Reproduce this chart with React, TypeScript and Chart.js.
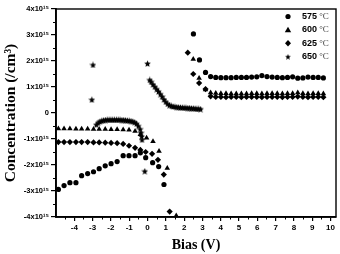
import React, { useEffect, useRef } from "react";
import { Chart, registerables } from "chart.js";
Chart.register(...registerables);

// ---- data (concentration in units of 1e15 /cm^3, bias in V) ----
const seriesLabels = ["575", "600", "625", "650"];
const labelUnit = " °C";

const bias575 = [-4.87, -4.56, -4.24, -3.91, -3.6, -3.27, -2.95, -2.64, -2.31, -1.99, -1.66, -1.33, -1.01, -0.68, -0.39, -0.1, 0.28, 0.61, 0.9,
  2.51, 2.84, 3.17,
  3.45, 3.73, 4.01, 4.29, 4.57, 4.85, 5.13, 5.41, 5.69, 5.97, 6.25, 6.53, 6.81, 7.09, 7.37, 7.65, 7.93, 8.21, 8.49, 8.77, 9.05, 9.33, 9.61];
const conc575 = [-2.94, -2.79, -2.68, -2.68, -2.41, -2.33, -2.26, -2.14, -2.03, -1.95, -1.87, -1.64, -1.64, -1.64, -1.53, -1.72, -1.91, -2.06, -2.75,
  3.04, 2.04, 1.56,
  1.4, 1.37, 1.36, 1.36, 1.36, 1.37, 1.37, 1.37, 1.38, 1.39, 1.44, 1.4, 1.38, 1.37, 1.36, 1.37, 1.39, 1.34, 1.35, 1.38, 1.37, 1.37, 1.35];

const bias600 = [-4.87, -4.56, -4.24, -3.91, -3.6, -3.27, -2.95, -2.64, -2.31, -1.99, -1.66, -1.33, -1.01, -0.68, -0.39, -0.05, 0.3, 0.63, 1.08, 1.57,
  2.5, 2.82, 3.17,
  3.45, 3.73, 4.01, 4.29, 4.57, 4.85, 5.13, 5.41, 5.69, 5.97, 6.25, 6.53, 6.81, 7.09, 7.37, 7.65, 7.93, 8.21, 8.49, 8.77, 9.05, 9.33, 9.61];
const conc600 = [-0.6, -0.6, -0.6, -0.61, -0.61, -0.61, -0.62, -0.62, -0.62, -0.63, -0.63, -0.64, -0.65, -0.7, -0.82, -0.96, -1.09, -1.47, -2.12, -3.95,
  2.07, 1.34, 0.9,
  0.78, 0.76, 0.75, 0.75, 0.74, 0.74, 0.74, 0.74, 0.75, 0.75, 0.74, 0.75, 0.75, 0.75, 0.74, 0.75, 0.75, 0.78, 0.75, 0.74, 0.75, 0.75, 0.74];

const bias625 = [-4.87, -4.56, -4.24, -3.91, -3.6, -3.27, -2.95, -2.64, -2.31, -1.99, -1.66, -1.33, -1.01, -0.68, -0.39, -0.1, 0.25, 0.57, 0.89, 1.21,
  2.2, 2.5, 2.82, 3.17,
  3.45, 3.73, 4.01, 4.29, 4.57, 4.85, 5.13, 5.41, 5.69, 5.97, 6.25, 6.53, 6.81, 7.09, 7.37, 7.65, 7.93, 8.21, 8.49, 8.77, 9.05, 9.33, 9.61];
const conc625 = [-1.12, -1.12, -1.12, -1.12, -1.12, -1.12, -1.13, -1.13, -1.14, -1.15, -1.16, -1.19, -1.26, -1.34, -1.42, -1.5, -1.57, -1.8, -2.37, -3.79,
  2.32, 1.5, 1.15, 0.92,
  0.64, 0.62, 0.62, 0.61, 0.62, 0.62, 0.61, 0.62, 0.62, 0.62, 0.61, 0.62, 0.62, 0.62, 0.61, 0.62, 0.62, 0.63, 0.62, 0.61, 0.62, 0.62, 0.61];

const bias650 = [-3.04, -2.98,
  -2.8, -2.7, -2.6, -2.5, -2.4, -2.3, -2.2, -2.1, -2.0, -1.9, -1.8, -1.7, -1.6, -1.5, -1.4, -1.3, -1.2, -1.1, -1.0, -0.9, -0.8, -0.7, -0.6, -0.5, -0.4, -0.35, -0.32, -0.3,
  -0.15, 0.0,
  0.12, 0.2, 0.3, 0.4, 0.5, 0.6, 0.7, 0.8, 0.9, 1.0, 1.1, 1.2, 1.3, 1.4, 1.5, 1.6, 1.7, 1.8, 1.9, 2.0, 2.1, 2.2, 2.3, 2.4, 2.5, 2.6, 2.7, 2.8, 2.9];
const conc650 = [0.51, 1.85,
  -0.45, -0.38, -0.33, -0.3, -0.28, -0.27, -0.26, -0.26, -0.26, -0.26, -0.26, -0.26, -0.26, -0.26, -0.27, -0.27, -0.28, -0.29, -0.3, -0.31, -0.33, -0.36, -0.41, -0.5, -0.62, -0.76, -0.9, -1.03,
  -2.24, 1.9,
  1.27, 1.2, 1.1, 1.01, 0.92, 0.83, 0.73, 0.63, 0.52, 0.43, 0.35, 0.3, 0.27, 0.25, 0.24, 0.23, 0.22, 0.21, 0.21, 0.2, 0.2, 0.19, 0.19, 0.18, 0.18, 0.17, 0.16, 0.16, 0.15];

const xTickValues = [-4, -3, -2, -1, 0, 1, 2, 3, 4, 5, 6, 7, 8, 9, 10];
const yTickValues = [-4, -3, -2, -1, 0, 1, 2, 3, 4];
const yTickLabels = ["-4x10¹⁵", "-3x10¹⁵", "-2x10¹⁵", "-1x10¹⁵", "0", "1x10¹⁵", "2x10¹⁵", "3x10¹⁵", "4x10¹⁵"];
const xMinorTicks = [-4.5, -3.5, -2.5, -1.5, -0.5, 0.5, 1.5, 2.5, 3.5, 4.5, 5.5, 6.5, 7.5, 8.5, 9.5];
const yMinorTicks = [-3.5, -2.5, -1.5, -0.5, 0.5, 1.5, 2.5, 3.5];

const xTitle = "Bias (V)";
const yTitle = "Concentration (/cm³)";

function makeStar(size: number) {
  const c = document.createElement("canvas");
  c.width = size;
  c.height = size;
  const g = c.getContext("2d")!;
  const cx = size / 2, cy = size / 2 + 0.3, R = size / 2, r = R * 0.45;
  g.beginPath();
  for (let k = 0; k < 10; k++) {
    const rad = k % 2 === 0 ? R : r;
    const a = -Math.PI / 2 + (k * Math.PI) / 5;
    g.lineTo(cx + rad * Math.cos(a), cy + rad * Math.sin(a));
  }
  g.closePath();
  g.fillStyle = "#000";
  g.fill();
  return c;
}

const pts = (xs: number[], ys: number[]) => xs.map((x, i) => ({ x, y: ys[i] }));

export default function App() {
  const ref = useRef<HTMLCanvasElement>(null);
  useEffect(() => {
    document.body.style.margin = "0";
    const star = makeStar(7);
    const legendStar = makeStar(6);
    const styles: any[] = ["circle", "triangle", "rectRot", star];

    const framePlugin = {
      id: "frame",
      afterDraw(chart: any) {
        const { ctx, chartArea: a, scales } = chart;
        ctx.save();
        ctx.strokeStyle = "#000";
        ctx.lineWidth = 1.4;
        ctx.strokeRect(a.left, a.top, a.right - a.left, a.bottom - a.top);
        ctx.lineWidth = 1;
        ctx.beginPath();
        xMinorTicks.forEach((v) => {
          const px = Math.round(scales.x.getPixelForValue(v)) + 0.5;
          ctx.moveTo(px, a.bottom);
          ctx.lineTo(px, a.bottom + 2.5);
        });
        yMinorTicks.forEach((v) => {
          const py = Math.round(scales.y.getPixelForValue(v)) + 0.5;
          ctx.moveTo(a.left, py);
          ctx.lineTo(a.left - 3, py);
        });
        ctx.stroke();

        // legend
        const rowStep = 13.4;
        chart.data.datasets.forEach((ds: any, i: number) => {
          const y = a.top + 7.5 + i * rowStep;
          const sx = a.right - 48;
          ctx.fillStyle = "#000";
          ctx.beginPath();
          if (i === 0) {
            ctx.arc(sx, y, 2.6, 0, Math.PI * 2);
            ctx.fill();
          } else if (i === 1) {
            ctx.moveTo(sx, y - 3.2);
            ctx.lineTo(sx + 3.2, y + 2.4);
            ctx.lineTo(sx - 3.2, y + 2.4);
            ctx.closePath();
            ctx.fill();
          } else if (i === 2) {
            ctx.moveTo(sx, y - 3.3);
            ctx.lineTo(sx + 3, y);
            ctx.lineTo(sx, y + 3.3);
            ctx.lineTo(sx - 3, y);
            ctx.closePath();
            ctx.fill();
          } else {
            ctx.drawImage(legendStar, sx - 3, y - 3);
          }
          ctx.textBaseline = "middle";
          ctx.textAlign = "left";
          ctx.font = "bold 9px 'Liberation Sans', Arial, sans-serif";
          const tx = a.right - 34;
          ctx.fillText(ds.label, tx, y);
          const w = ctx.measureText(ds.label).width;
          ctx.font = "9px 'Liberation Serif', serif";
          ctx.fillStyle = "#444";
          ctx.fillText(labelUnit, tx + w, y);
        });
        ctx.restore();
      },
    };

    const chart = new Chart(ref.current!, {
      type: "scatter",
      data: {
        datasets: [
          { label: seriesLabels[0], data: pts(bias575, conc575), pointStyle: styles[0], pointRadius: 2.6 },
          { label: seriesLabels[1], data: pts(bias600, conc600), pointStyle: styles[1], pointRadius: 3.2 },
          { label: seriesLabels[2], data: pts(bias625, conc625), pointStyle: styles[2], pointRadius: 3.1 },
          { label: seriesLabels[3], data: pts(bias650, conc650), pointStyle: styles[3], pointRadius: 3.5 },
        ].map((d) => ({ ...d, backgroundColor: "#000", borderColor: "#000", borderWidth: 0, showLine: false })) as any,
      },
      options: {
        animation: false,
        responsive: false,
        devicePixelRatio: 1,
        layout: { padding: { left: 0, right: 3, top: 9, bottom: 0 } },
        plugins: { legend: { display: false }, tooltip: { enabled: false } },
        scales: {
          x: {
            type: "linear",
            min: -5,
            max: 10.3,
            afterBuildTicks: (s: any) => {
              s.ticks = xTickValues.map((v) => ({ value: v }));
            },
            afterFit: (s: any) => {
              s.height = 37;
            },
            ticks: {
              autoSkip: false,
              maxRotation: 0,
              padding: 2,
              color: "#000",
              font: { family: "'Liberation Sans', Arial, sans-serif", size: 8, weight: "bold" },
              callback: (v: any) => String(v),
            },
            grid: { drawOnChartArea: false, drawTicks: true, tickLength: 4, color: "#000", lineWidth: 1.2 },
            border: { display: true, color: "#000", width: 1.8 },
            title: {
              display: true,
              text: xTitle,
              color: "#000",
              font: { family: "'Liberation Serif', 'Times New Roman', serif", size: 14, weight: "bold" },
              padding: { top: 0, bottom: 0 },
            },
          },
          y: {
            type: "linear",
            min: -4,
            max: 4,
            afterBuildTicks: (s: any) => {
              s.ticks = yTickValues.map((v) => ({ value: v }));
            },
            afterFit: (s: any) => {
              s.width = 56;
            },
            ticks: {
              autoSkip: false,
              padding: 2,
              color: "#000",
              font: { family: "'Liberation Sans', Arial, sans-serif", size: 7.5, weight: "bold" },
              callback: (v: any) => yTickLabels[yTickValues.indexOf(Number(v))],
            },
            grid: { drawOnChartArea: false, drawTicks: true, tickLength: 5, color: "#000", lineWidth: 1.2 },
            border: { display: true, color: "#000", width: 1.8 },
            title: {
              display: true,
              text: yTitle,
              color: "#000",
              font: { family: "'Liberation Serif', 'Times New Roman', serif", size: 15.5, weight: "bold" },
              padding: { top: 2, bottom: 0 },
            },
          },
        },
      },
      plugins: [framePlugin],
    });
    return () => chart.destroy();
  }, []);
  return (
    <div style={{ width: 340, height: 254, background: "#fff" }}>
      <canvas ref={ref} width={340} height={254} style={{ display: "block", width: 340, height: 254 }} />
    </div>
  );
}
